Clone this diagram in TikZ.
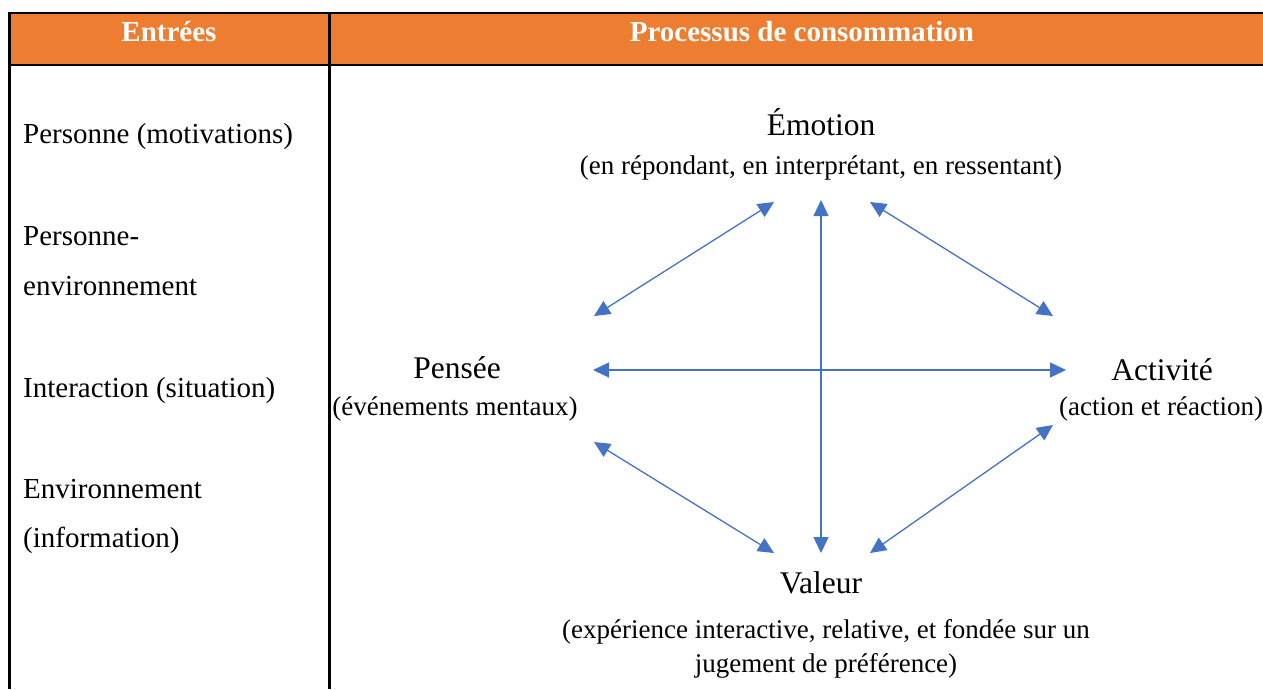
\documentclass[tikz,border=0pt]{standalone}
\usepackage{fontspec}
\setmainfont{Liberation Serif}
\usetikzlibrary{arrows.meta}
\definecolor{hdr}{HTML}{ED7D31}
\definecolor{arr}{HTML}{4472C4}
\begin{document}
\begin{tikzpicture}[x=1pt,y=-1pt,
 lefttxt/.style={anchor=base west, inner sep=0pt, font=\fontsize{29}{34}\selectfont},
 headtxt/.style={anchor=base, inner sep=0pt, font=\fontsize{31.5}{36}\selectfont},
 subtxt/.style={anchor=base, inner sep=0pt, font=\fontsize{27}{32}\selectfont},
 hdrtxt/.style={anchor=base, inner sep=0pt, text=white, font=\bfseries\fontsize{29}{34}\selectfont},
 link/.style={draw=arr, line width=1.3pt, {Triangle[length=16pt,width=15pt]}-{Triangle[length=16pt,width=15pt]}},
 rule/.style={line width=2.4pt}]
\useasboundingbox (0,0) rectangle (1263,689);
% table
\fill[hdr] (9.3,13) rectangle (1263,64.7);
\draw[rule] (1263,13) -- (9.3,13) -- (9.3,689);
\draw[rule] (9.3,64.7) -- (1263,64.7);
\draw[rule] (329.5,13) -- (329.5,689);
% header
\node[hdrtxt] (h1) at (169,41) {Entrées};
\node[hdrtxt] (h2) at (802,41) {Processus de consommation};
% left column
\node[lefttxt] (l1) at (23,143) {Personne (motivations)};
\node[lefttxt] (l2) at (23,245) {Personne-};
\node[lefttxt] (l3) at (23,295) {environnement};
\node[lefttxt] (l4) at (23,397) {Interaction (situation)};
\node[lefttxt] (l5) at (23,498) {Environnement};
\node[lefttxt] (l6) at (23,547) {(information)};
% diagram texts
\node[headtxt] (emo) at (821,135) {Émotion};
\node[subtxt] (emos) at (821,174) {(en répondant, en interprétant, en ressentant)};
\node[headtxt] (pen) at (457,378) {Pensée};
\node[subtxt] (pens) at (455,415) {(événements mentaux)};
\node[headtxt] (act) at (1162,380) {Activité};
\node[subtxt] (acts) at (1161,415) {(action et réaction)};
\node[headtxt] (val) at (821,593) {Valeur};
\node[subtxt] (vals1) at (826,638) {(expérience interactive, relative, et fondée sur un};
\node[subtxt] (vals2) at (826,672) {jugement de préférence)};
% arrow ends
\coordinate (eL) at (774,202);
\coordinate (eM) at (821,200);
\coordinate (eR) at (870,202);
\coordinate (pT) at (594,316);
\coordinate (pM) at (593,370);
\coordinate (pB) at (594,442);
\coordinate (aT) at (1053,316);
\coordinate (aM) at (1066,370);
\coordinate (aB) at (1053,425);
\coordinate (vL) at (774,553);
\coordinate (vM) at (821,553);
\coordinate (vR) at (870,553);
\draw[link] (eL) -- (pT);
\draw[link] (eM) -- (vM);
\draw[link] (eR) -- (aT);
\draw[link] (pM) -- (aM);
\draw[link] (pB) -- (vL);
\draw[link] (aB) -- (vR);
\end{tikzpicture}
\end{document}
